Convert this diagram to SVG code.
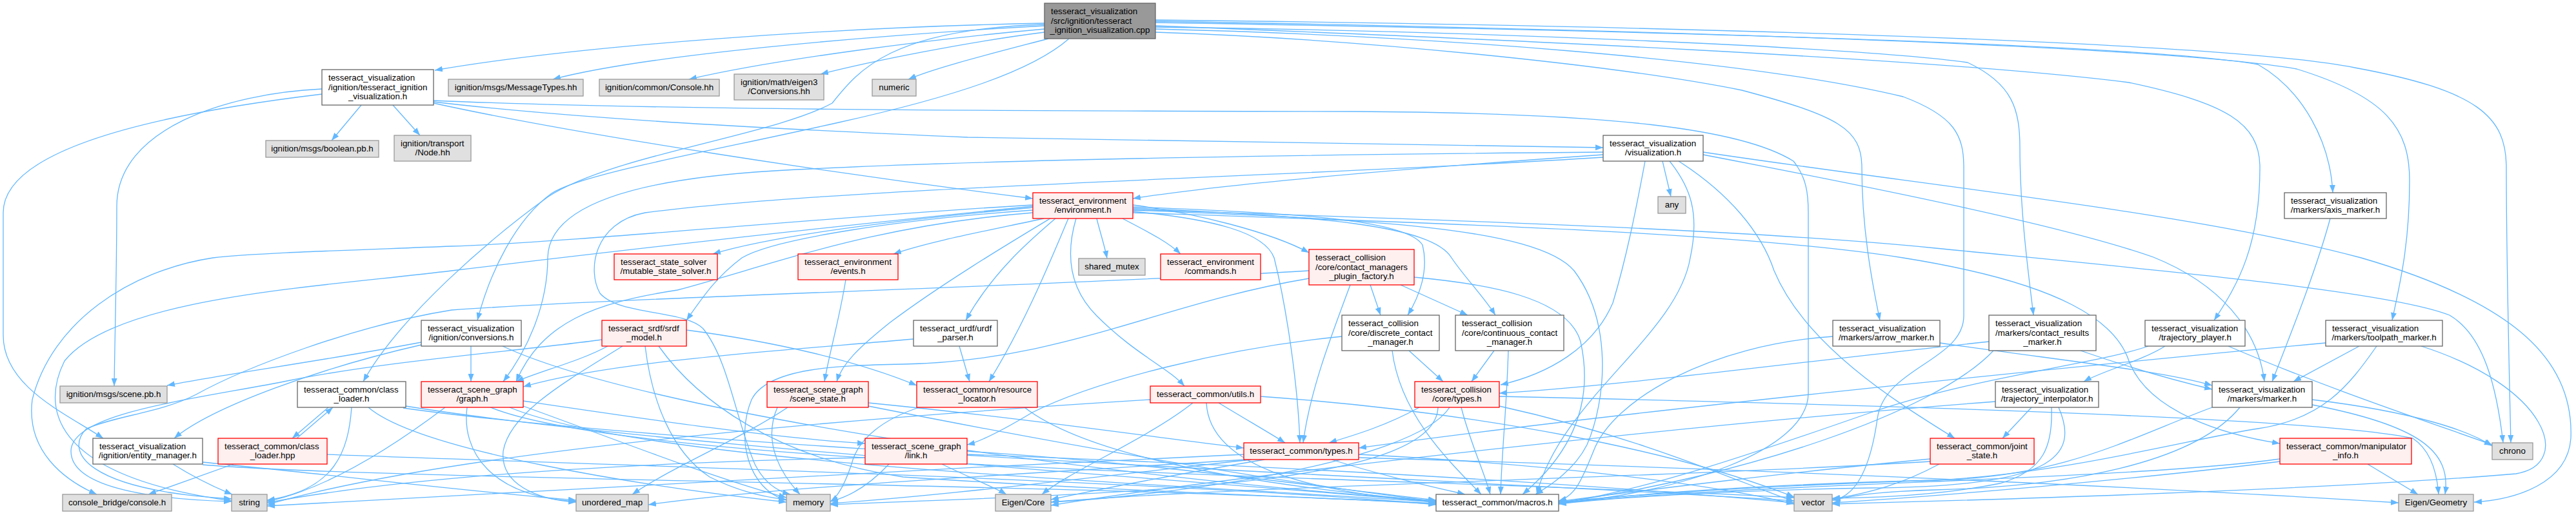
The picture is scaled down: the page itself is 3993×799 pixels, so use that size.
<svg xmlns="http://www.w3.org/2000/svg" width="3993" height="799" viewBox="0 0 3993 799">
<defs>
<marker id="ah" markerUnits="userSpaceOnUse" markerWidth="12" markerHeight="9" viewBox="0 0 12 9" refX="12" refY="4.5" orient="auto"><path d="M0,0 L12,4.5 L0,9 z" fill="#63b8ff"/></marker>
</defs>
<style>
.e{fill:none;stroke:#63b8ff;stroke-width:1.3;marker-end:url(#ah)}
rect{stroke-width:1.3}
.w rect{fill:#ffffff;stroke:#666666}
.g rect{fill:#e0e0e0;stroke:#999999}
.r rect{fill:#fff0f0;stroke:#ff0000}
.k rect{fill:#999999;stroke:#666666}
text{font-family:"Liberation Sans",Arial,Helvetica,sans-serif;font-size:13.33px;fill:#000000}
.m{text-anchor:middle}
</style>
<rect x="0" y="0" width="3993" height="799" fill="#ffffff"/>
<g id="connectors">
<path class="e" d="M1619,36 C1300,42 900,70 674,109"/>
<path class="e" d="M1619,40 C1350,55 1000,85 857,123"/>
<path class="e" d="M1619,45 C1450,60 1200,92 1068,123"/>
<path class="e" d="M1619,50 C1500,65 1350,95 1272,115"/>
<path class="e" d="M1625,60 C1530,85 1450,105 1408,123"/>
<path class="e" d="M1619,38 C1380,45 1330,110 1290,160 C1200,210 950,240 850,305 C760,370 620,490 563,592"/>
<path class="e" d="M1657,60 C1600,110 1480,150 1300,190 C1100,235 900,270 855,300 C800,340 760,420 740,497"/>
<path class="e" d="M1791,35 C2400,45 3300,65 3500,100 C3570,140 3612,220 3616,299"/>
<path class="e" d="M1791,33 C2500,45 3350,70 3560,107 C3700,150 3735,200 3735,280 C3735,380 3720,440 3708,497"/>
<path class="e" d="M1791,31 C2600,40 3450,65 3650,105 C3840,140 3885,180 3885,260 C3885,400 3890,600 3892,687"/>
<path class="e" d="M1791,40 C2300,60 3000,90 3300,128 C3450,160 3503,190 3503,260 C3503,380 3470,440 3432,497"/>
<path class="e" d="M1791,42 C2300,48 2900,75 3050,97 C3120,130 3131,170 3131,230 C3131,330 3145,430 3152,489"/>
<path class="e" d="M1791,50 C2100,60 2500,100 2700,140 C2850,180 2886,200 2886,260 C2886,350 2900,430 2914,497"/>
<path class="e" d="M1791,45 C2200,55 2700,90 2950,150 C3030,180 3044,210 3044,260 L3044,490 C3044,560 2920,570 2910,650 C2900,720 2880,770 2841,776"/>
<path class="e" d="M560,163 L514,218"/>
<path class="e" d="M609,163 L651,210"/>
<path class="e" d="M499,138 C350,145 181,200 181,320 C181,420 178,520 177,599"/>
<path class="e" d="M499,146 C300,170 5,220 5,330 L5,520 C5,600 100,640 160,680"/>
<path class="e" d="M672,160 C900,210 1300,270 1601,308"/>
<path class="e" d="M672,158 C900,185 1200,200 1500,213 C1900,222 2300,226 2485,229"/>
<path class="e" d="M672,156 C1000,170 1500,172 2100,173 C2500,175 2700,200 2780,250 C2800,275 2803,300 2803,330 L2803,610 C2803,700 2600,765 2416,781"/>
<path class="e" d="M268,720 C300,740 330,755 360,767"/>
<path class="e" d="M314,717 C500,735 750,765 893,776"/>
<path class="e" d="M314,721 C600,745 1700,750 2226,782"/>
<path class="e" d="M509,632 L453,680"/>
<path class="e" d="M460,680 L516,632"/>
<path class="e" d="M545,632 C540,700 520,760 414,776"/>
<path class="e" d="M571,632 C650,700 1000,755 1219,779"/>
<path class="e" d="M629,630 C1000,690 1800,740 2226,779"/>
<path class="e" d="M625,633 C1100,700 2300,745 2781,777"/>
<path class="e" d="M362,720 L230,767"/>
<path class="e" d="M507,705 C900,720 1800,745 2226,783"/>
<path class="e" d="M653,531 C500,560 350,580 259,598"/>
<path class="e" d="M653,535 C500,570 330,630 270,680"/>
<path class="e" d="M730,537 L730,592"/>
<path class="e" d="M779,537 C1000,640 1700,740 2226,777"/>
<path class="e" d="M2577,250 L2590,305"/>
<path class="e" d="M2485,240 C2200,260 1900,285 1756,308"/>
<path class="e" d="M2485,236 C2000,240 1500,248 1200,265 C950,280 850,330 849,400 C849,470 820,540 780,592"/>
<path class="e" d="M2485,244 C2000,275 1300,290 1000,330 C920,345 910,420 930,455 C960,490 1060,480 1090,510 C1130,560 1140,650 1170,720 C1185,750 1205,762 1225,767"/>
<path class="e" d="M2550,250 C2535,330 2521,400 2500,470 C2470,540 2400,580 2326,597"/>
<path class="e" d="M2588,250 C2620,290 2635,330 2620,400 C2600,520 2420,620 2382,767"/>
<path class="e" d="M2602,250 C2680,300 2730,360 2750,420 C2800,540 2950,630 3030,680"/>
<path class="e" d="M2640,240 C2900,290 3200,350 3338,399 C3440,440 3500,510 3510,592"/>
<path class="e" d="M2640,236 C3000,290 3400,330 3660,400 C3900,470 3990,560 3985,680 C3980,750 3900,775 3835,779"/>
<path class="e" d="M1618,339 C1520,360 1440,375 1385,394"/>
<path class="e" d="M1601,322 C1400,340 1200,365 1105,394"/>
<path class="e" d="M1700,339 C1705,360 1712,380 1716,401"/>
<path class="e" d="M1740,339 C1780,360 1810,375 1830,394"/>
<path class="e" d="M1636,339 C1600,370 1540,420 1497,497"/>
<path class="e" d="M1656,339 C1630,400 1590,500 1533,592"/>
<path class="e" d="M1668,339 C1650,400 1660,450 1700,490 C1760,550 1810,570 1836,599"/>
<path class="e" d="M1601,326 C1400,340 1200,370 1150,400 C1110,430 1090,460 1064,497"/>
<path class="e" d="M1601,330 C1350,350 1200,410 1050,450 C920,470 840,500 800,592"/>
<path class="e" d="M1628,339 C1560,380 1460,440 1380,500 C1330,540 1305,565 1297,592"/>
<path class="e" d="M1756,318 C1850,330 1970,360 2029,392"/>
<path class="e" d="M1756,321 C2000,330 2180,340 2205,380 C2215,420 2200,460 2182,489"/>
<path class="e" d="M1756,323 C2050,335 2220,350 2250,400 C2270,430 2300,460 2318,489"/>
<path class="e" d="M1756,328 C1880,340 1960,360 1975,400 C1995,480 2012,600 2015,687"/>
<path class="e" d="M1756,326 C2100,340 2380,350 2440,420 C2500,500 2490,620 2460,690 C2440,730 2400,755 2380,767"/>
<path class="e" d="M1601,320 C1300,350 950,390 700,420 C500,445 180,460 100,560 C60,640 90,740 359,777"/>
<path class="e" d="M1601,318 C1300,335 900,375 700,382 C550,388 400,392 330,400 C200,420 80,500 50,620 C40,700 100,745 150,767"/>
<path class="e" d="M1756,330 C2200,345 2700,360 2950,400 C3200,440 3280,500 3300,560 C3330,640 3450,675 3534,688"/>
<path class="e" d="M1756,325 C2200,340 2700,355 3000,385 C3300,415 3700,450 3797,489 C3850,520 3870,600 3880,687"/>
<path class="e" d="M1311,434 C1300,500 1285,550 1278,592"/>
<path class="e" d="M2029,420 C1600,445 1000,460 700,481 C550,505 380,570 304,612 C250,640 180,645 134,665 C100,700 130,760 359,774"/>
<path class="e" d="M2124,442 L2140,489"/>
<path class="e" d="M2171,442 L2275,489"/>
<path class="e" d="M2093,442 C2060,530 2030,610 2020,687"/>
<path class="e" d="M2192,430 C2300,440 2430,460 2450,530 C2470,620 2440,700 2360,767"/>
<path class="e" d="M2029,432 C1800,470 1650,560 1400,565 C1300,567 1190,570 1165,620 C1140,680 1160,760 1219,776"/>
<path class="e" d="M1416,526 C1200,545 950,560 811,600"/>
<path class="e" d="M1487,537 L1503,592"/>
<path class="e" d="M1425,632 C1370,650 1330,680 1320,720 C1310,750 1300,770 1287,778"/>
<path class="e" d="M1588,632 C1650,680 1800,740 2226,778"/>
<path class="e" d="M933,527 C800,545 600,560 450,590 C300,620 110,640 110,700 C110,760 250,775 359,778"/>
<path class="e" d="M942,537 C900,560 840,575 800,592"/>
<path class="e" d="M1064,512 C1200,530 1330,560 1421,598"/>
<path class="e" d="M1000,537 C1010,620 1040,700 1100,740 C1150,765 1190,772 1219,775"/>
<path class="e" d="M965,537 C880,590 790,640 780,700 C775,750 830,775 893,779"/>
<path class="e" d="M1021,537 C1080,620 1200,710 1400,740 C1700,760 2000,770 2226,781"/>
<path class="e" d="M690,632 C600,700 500,760 414,778"/>
<path class="e" d="M724,632 C715,700 760,770 893,778"/>
<path class="e" d="M811,622 C1000,650 1200,680 1341,688"/>
<path class="e" d="M811,630 C950,680 1100,740 1219,772"/>
<path class="e" d="M790,632 C1000,720 1800,750 2226,779"/>
<path class="e" d="M760,632 C1000,730 2200,740 2781,772"/>
<path class="e" d="M1221,632 C1150,680 1050,720 980,767"/>
<path class="e" d="M1205,632 C1180,690 1215,740 1240,767"/>
<path class="e" d="M1346,625 C1600,650 1800,680 1928,695"/>
<path class="e" d="M1346,630 C1700,700 2000,750 2226,778"/>
<path class="e" d="M1378,720 C1350,750 1320,770 1287,778"/>
<path class="e" d="M1341,710 C900,720 600,745 414,780"/>
<path class="e" d="M1499,705 C1900,720 2400,745 2781,780"/>
<path class="e" d="M1499,700 C1800,720 2000,750 2226,776"/>
<path class="e" d="M1460,720 C1500,740 1540,755 1560,767"/>
<path class="e" d="M1889,625 C1930,650 1965,670 1992,687"/>
<path class="e" d="M1849,625 C1780,680 1660,730 1615,767"/>
<path class="e" d="M1783,620 C1300,650 700,700 414,783"/>
<path class="e" d="M1954,615 C2300,640 2600,700 2781,771"/>
<path class="e" d="M1870,625 C1875,730 2050,765 2226,779"/>
<path class="e" d="M2064,713 C2150,740 2220,755 2271,767"/>
<path class="e" d="M1928,705 C1400,730 800,760 414,785"/>
<path class="e" d="M1940,713 C1700,740 1450,770 1287,781"/>
<path class="e" d="M1930,713 C1600,735 1200,755 1005,783"/>
<path class="e" d="M2106,705 C2400,720 2650,750 2781,782"/>
<path class="e" d="M1960,713 C1800,740 1700,760 1629,775"/>
<path class="e" d="M2106,710 C2800,730 3400,760 3718,780"/>
<path class="e" d="M2200,632 C2150,660 2100,675 2060,687"/>
<path class="e" d="M2265,632 C2280,690 2300,730 2310,767"/>
<path class="e" d="M2229,632 C2225,760 1700,765 1287,783"/>
<path class="e" d="M2247,632 C2190,720 1800,770 1629,779"/>
<path class="e" d="M2324,630 C2550,680 2700,750 2781,778"/>
<path class="e" d="M2324,615 C3000,630 3600,650 3740,680 C3770,700 3778,740 3780,767"/>
<path class="e" d="M2184,544 L2237,592"/>
<path class="e" d="M2158,544 C2170,640 2240,710 2296,767"/>
<path class="e" d="M2080,522 C1900,540 1700,590 1600,640 C1550,670 1520,685 1499,690"/>
<path class="e" d="M2316,544 L2281,592"/>
<path class="e" d="M2338,544 C2335,640 2328,700 2326,767"/>
<path class="e" d="M3007,532 C3200,560 3350,575 3429,598"/>
<path class="e" d="M2841,522 C2650,535 2500,620 2470,700 C2450,750 2440,770 2416,777"/>
<path class="e" d="M3225,544 C3300,570 3370,590 3429,604"/>
<path class="e" d="M3083,530 C2800,560 2500,600 2324,610"/>
<path class="e" d="M3090,544 C3000,640 2700,740 2416,780"/>
<path class="e" d="M3149,632 L3104,680"/>
<path class="e" d="M3180,632 C3182,690 3170,730 3100,750 C3000,770 2900,772 2840,773"/>
<path class="e" d="M3191,632 C3225,710 3180,755 2900,757 C2700,760 2500,772 2416,782"/>
<path class="e" d="M3093,623 C2600,660 1900,740 1629,784"/>
<path class="e" d="M3006,720 C2950,750 2900,765 2840,774"/>
<path class="e" d="M2992,716 C2600,740 1900,755 1629,779"/>
<path class="e" d="M2992,712 C2800,730 2550,760 2416,778"/>
<path class="e" d="M3356,537 C3320,560 3260,575 3230,592"/>
<path class="e" d="M3454,537 C3600,600 3780,660 3863,690"/>
<path class="e" d="M3330,537 C3250,565 3060,585 2900,640 C2700,710 2550,760 2416,781"/>
<path class="e" d="M3657,537 L3555,592"/>
<path class="e" d="M3605,532 C3200,570 2500,640 2106,695"/>
<path class="e" d="M3753,537 C3950,600 3990,720 3900,735 C3600,760 3100,775 2840,782"/>
<path class="e" d="M3684,537 C3640,600 3600,650 3500,665 C3400,680 3200,735 3000,745 C2700,755 2500,770 2416,779"/>
<path class="e" d="M3584,620 C3750,640 3830,670 3863,692"/>
<path class="e" d="M3584,628 C3750,660 3800,700 3790,767"/>
<path class="e" d="M3429,632 C3300,680 3200,740 3000,745 C2700,752 2500,770 2416,781"/>
<path class="e" d="M3472,632 C3400,720 3200,755 3000,760 C2900,763 2870,770 2840,776"/>
<path class="e" d="M3612,339 C3590,420 3550,520 3522,592"/>
<path class="e" d="M3670,720 L3748,767"/>
<path class="e" d="M3534,712 C3300,745 2700,750 2416,781"/>
<path class="e" d="M3534,716 C3300,745 3000,770 2840,780"/>
</g>
<g id="n-root" class="k"><rect x="1619" y="5" width="172" height="55"/><text x="1629" y="22">tesseract_visualization</text><text x="1629" y="36.5">/src/ignition/tesseract</text><text x="1705" y="51" class="m">_ignition_visualization.cpp</text></g>
<g id="n-ivh" class="w"><rect x="499" y="108" width="173" height="55"/><text x="509" y="125">tesseract_visualization</text><text x="509" y="139.5">/ignition/tesseract_ignition</text><text x="585.5" y="154" class="m">_visualization.h</text></g>
<g id="n-boolean" class="g"><rect x="412" y="218" width="175" height="26"/><text x="499.5" y="235" class="m">ignition/msgs/boolean.pb.h</text></g>
<g id="n-nodehh" class="g"><rect x="611" y="210" width="119" height="40"/><text x="621" y="226.75">ignition/transport</text><text x="670.5" y="241.25" class="m">/Node.hh</text></g>
<g id="n-msgtypes" class="g"><rect x="695" y="123" width="209" height="26"/><text x="799.5" y="140" class="m">ignition/msgs/MessageTypes.hh</text></g>
<g id="n-console" class="g"><rect x="929" y="123" width="186" height="26"/><text x="1022" y="140" class="m">ignition/common/Console.hh</text></g>
<g id="n-convhh" class="g"><rect x="1138" y="115" width="139" height="40"/><text x="1148" y="131.75">ignition/math/eigen3</text><text x="1207.5" y="146.25" class="m">/Conversions.hh</text></g>
<g id="n-numeric" class="g"><rect x="1352" y="123" width="68" height="26"/><text x="1386" y="140" class="m">numeric</text></g>
<g id="n-env" class="r"><rect x="1601" y="299" width="155" height="40"/><text x="1611" y="315.75">tesseract_environment</text><text x="1678.5" y="330.25" class="m">/environment.h</text></g>
<g id="n-vis" class="w"><rect x="2485" y="210" width="155" height="40"/><text x="2495" y="226.75">tesseract_visualization</text><text x="2562.5" y="241.25" class="m">/visualization.h</text></g>
<g id="n-any" class="g"><rect x="2570" y="305" width="43" height="26"/><text x="2591.5" y="322" class="m">any</text></g>
<g id="n-axis" class="w"><rect x="3541" y="299" width="158" height="40"/><text x="3551" y="315.75">tesseract_visualization</text><text x="3620" y="330.25" class="m">/markers/axis_marker.h</text></g>
<g id="n-scenepb" class="g"><rect x="93" y="599" width="166" height="26"/><text x="176" y="616" class="m">ignition/msgs/scene.pb.h</text></g>
<g id="n-clh" class="w"><rect x="461" y="592" width="168" height="40"/><text x="471" y="608.75">tesseract_common/class</text><text x="545" y="623.25" class="m">_loader.h</text></g>
<g id="n-entity" class="w"><rect x="144" y="680" width="170" height="40"/><text x="154" y="696.75">tesseract_visualization</text><text x="229" y="711.25" class="m">/ignition/entity_manager.h</text></g>
<g id="n-clhpp" class="r"><rect x="338" y="680" width="169" height="40"/><text x="348" y="696.75">tesseract_common/class</text><text x="422.5" y="711.25" class="m">_loader.hpp</text></g>
<g id="n-cbridge" class="g"><rect x="97" y="767" width="169" height="26"/><text x="181.5" y="784" class="m">console_bridge/console.h</text></g>
<g id="n-string" class="g"><rect x="359" y="767" width="55" height="26"/><text x="386.5" y="784" class="m">string</text></g>
<g id="n-convh" class="w"><rect x="653" y="497" width="155" height="40"/><text x="663" y="513.75">tesseract_visualization</text><text x="730.5" y="528.25" class="m">/ignition/conversions.h</text></g>
<g id="n-srdf" class="r"><rect x="933" y="497" width="131" height="40"/><text x="943" y="513.75">tesseract_srdf/srdf</text><text x="998.5" y="528.25" class="m">_model.h</text></g>
<g id="n-mss" class="r"><rect x="952" y="394" width="160" height="40"/><text x="962" y="410.75">tesseract_state_solver</text><text x="1032" y="425.25" class="m">/mutable_state_solver.h</text></g>
<g id="n-events" class="r"><rect x="1237" y="394" width="155" height="40"/><text x="1247" y="410.75">tesseract_environment</text><text x="1314.5" y="425.25" class="m">/events.h</text></g>
<g id="n-graph" class="r"><rect x="653" y="592" width="158" height="40"/><text x="663" y="608.75">tesseract_scene_graph</text><text x="732" y="623.25" class="m">/graph.h</text></g>
<g id="n-sstate" class="r"><rect x="1189" y="592" width="157" height="40"/><text x="1199" y="608.75">tesseract_scene_graph</text><text x="1267.5" y="623.25" class="m">/scene_state.h</text></g>
<g id="n-umap" class="g"><rect x="893" y="767" width="112" height="26"/><text x="949" y="784" class="m">unordered_map</text></g>
<g id="n-memory" class="g"><rect x="1219" y="767" width="68" height="26"/><text x="1253" y="784" class="m">memory</text></g>
<g id="n-link" class="r"><rect x="1341" y="680" width="158" height="40"/><text x="1351" y="696.75">tesseract_scene_graph</text><text x="1420" y="711.25" class="m">/link.h</text></g>
<g id="n-smutex" class="g"><rect x="1672" y="401" width="103" height="26"/><text x="1723.5" y="418" class="m">shared_mutex</text></g>
<g id="n-commands" class="r"><rect x="1799" y="394" width="155" height="40"/><text x="1809" y="410.75">tesseract_environment</text><text x="1876.5" y="425.25" class="m">/commands.h</text></g>
<g id="n-urdf" class="w"><rect x="1416" y="497" width="130" height="40"/><text x="1426" y="513.75">tesseract_urdf/urdf</text><text x="1481" y="528.25" class="m">_parser.h</text></g>
<g id="n-resloc" class="r"><rect x="1421" y="592" width="187" height="40"/><text x="1431" y="608.75">tesseract_common/resource</text><text x="1514.5" y="623.25" class="m">_locator.h</text></g>
<g id="n-utils" class="r"><rect x="1783" y="599" width="171" height="26"/><text x="1868.5" y="616" class="m">tesseract_common/utils.h</text></g>
<g id="n-ecore" class="g"><rect x="1543" y="767" width="86" height="26"/><text x="1586" y="784" class="m">Eigen/Core</text></g>
<g id="n-ctypes" class="r"><rect x="1928" y="687" width="178" height="26"/><text x="2017" y="704" class="m">tesseract_common/types.h</text></g>
<g id="n-cmpf" class="r"><rect x="2029" y="387" width="163" height="55"/><text x="2039" y="404">tesseract_collision</text><text x="2039" y="418.5">/core/contact_managers</text><text x="2110.5" y="433" class="m">_plugin_factory.h</text></g>
<g id="n-discrete" class="w"><rect x="2080" y="489" width="151" height="55"/><text x="2090" y="506">tesseract_collision</text><text x="2090" y="520.5">/core/discrete_contact</text><text x="2155.5" y="535" class="m">_manager.h</text></g>
<g id="n-continuous" class="w"><rect x="2256" y="489" width="168" height="55"/><text x="2266" y="506">tesseract_collision</text><text x="2266" y="520.5">/core/continuous_contact</text><text x="2340" y="535" class="m">_manager.h</text></g>
<g id="n-coltypes" class="r"><rect x="2193" y="592" width="131" height="40"/><text x="2203" y="608.75">tesseract_collision</text><text x="2258.5" y="623.25" class="m">/core/types.h</text></g>
<g id="n-macros" class="w"><rect x="2226" y="767" width="190" height="26"/><text x="2321" y="784" class="m">tesseract_common/macros.h</text></g>
<g id="n-arrow" class="w"><rect x="2841" y="497" width="166" height="40"/><text x="2851" y="513.75">tesseract_visualization</text><text x="2924" y="528.25" class="m">/markers/arrow_marker.h</text></g>
<g id="n-crm" class="w"><rect x="3083" y="489" width="166" height="55"/><text x="3093" y="506">tesseract_visualization</text><text x="3093" y="520.5">/markers/contact_results</text><text x="3166" y="535" class="m">_marker.h</text></g>
<g id="n-tinterp" class="w"><rect x="3093" y="592" width="160" height="40"/><text x="3103" y="608.75">tesseract_visualization</text><text x="3173" y="623.25" class="m">/trajectory_interpolator.h</text></g>
<g id="n-jstate" class="r"><rect x="2992" y="680" width="161" height="40"/><text x="3002" y="696.75">tesseract_common/joint</text><text x="3072.5" y="711.25" class="m">_state.h</text></g>
<g id="n-vector" class="g"><rect x="2781" y="767" width="59" height="26"/><text x="2810.5" y="784" class="m">vector</text></g>
<g id="n-tplayer" class="w"><rect x="3325" y="497" width="155" height="40"/><text x="3335" y="513.75">tesseract_visualization</text><text x="3402.5" y="528.25" class="m">/trajectory_player.h</text></g>
<g id="n-toolpath" class="w"><rect x="3605" y="497" width="181" height="40"/><text x="3615" y="513.75">tesseract_visualization</text><text x="3695.5" y="528.25" class="m">/markers/toolpath_marker.h</text></g>
<g id="n-marker" class="w"><rect x="3429" y="592" width="155" height="40"/><text x="3439" y="608.75">tesseract_visualization</text><text x="3506.5" y="623.25" class="m">/markers/marker.h</text></g>
<g id="n-minfo" class="r"><rect x="3534" y="680" width="204" height="40"/><text x="3544" y="696.75">tesseract_common/manipulator</text><text x="3636" y="711.25" class="m">_info.h</text></g>
<g id="n-chrono" class="g"><rect x="3863" y="687" width="63" height="26"/><text x="3894.5" y="704" class="m">chrono</text></g>
<g id="n-egeom" class="g"><rect x="3718" y="767" width="116" height="26"/><text x="3776" y="784" class="m">Eigen/Geometry</text></g>
</svg>
